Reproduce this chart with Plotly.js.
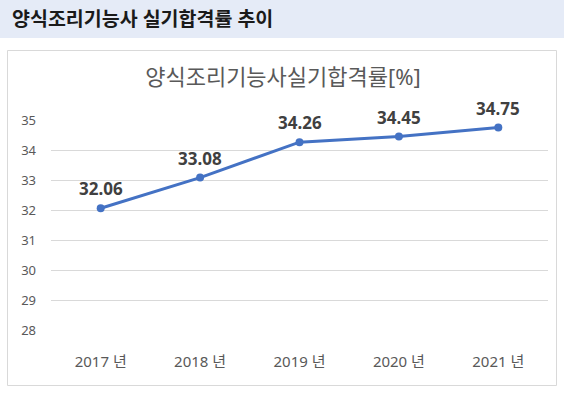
<!DOCTYPE html>
<html>
<head>
<meta charset="utf-8">
<script src="https://cdn.plot.ly/plotly-3.0.1.min.js"></script>
<style>html,body{margin:0;padding:0;background:#fff;}#chart{width:564px;height:396px;}</style>
</head>
<body>
<div id="chart"></div>
<script>
const years = ["2017 년", "2018 년", "2019 년", "2020 년", "2021 년"];
const rates = [32.06, 33.08, 34.26, 34.45, 34.75];
const rateLabels = ["32.06", "33.08", "34.26", "34.45", "34.75"];
const headerText = "양식조리기능사 실기합격률 추이";
const chartTitle = "양식조리기능사실기합격률[%]";

const W = 564, H = 396;
const L = 51, R = 548, T = 120, B = 330;
const px = x => (x - L) / (R - L);
const py = y => (B - y) / (B - T);
const FONT = "Noto Sans, Noto Sans CJK KR, sans-serif";

const trace = {
  x: years, y: rates, type: "scatter", mode: "lines+markers",
  line: {color: "#4472C4", width: 3},
  marker: {color: "#4472C4", size: 8},
  hoverinfo: "skip", cliponaxis: false
};

const labelAnns = years.map((c, i) => ({
  x: c, y: rates[i], xref: "x", yref: "y", text: rateLabels[i],
  showarrow: false, yanchor: "bottom", yshift: 6,
  font: {family: FONT, size: 17, color: "#404040", weight: "bold"}
}));

const layout = {
  width: W, height: H,
  margin: {l: L, r: W - R, t: T, b: H - B, pad: 0},
  paper_bgcolor: "#ffffff", plot_bgcolor: "rgba(0,0,0,0)",
  showlegend: false,
  title: {
    text: chartTitle, x: 283 / W, xanchor: "center", xref: "container",
    y: 1 - 77 / H, yanchor: "middle", yref: "container",
    font: {family: FONT, size: 22, color: "#595959"}
  },
  xaxis: {
    type: "category", range: [-0.5, 4.5], showgrid: false, showline: false,
    zeroline: false, ticks: "", ticklabelstandoff: 21,
    tickfont: {family: FONT, size: 15, color: "#595959"}, fixedrange: true
  },
  yaxis: {
    range: [28, 35], dtick: 1, tick0: 28, showgrid: true, gridcolor: "#D9D9D9",
    gridwidth: 1, showline: false, zeroline: false, ticks: "", ticklabelstandoff: 14,
    tickfont: {family: FONT, size: 13, color: "#595959"}, fixedrange: true
  },
  shapes: [
    {type: "rect", xref: "paper", yref: "paper", layer: "below",
     x0: px(0), x1: px(W), y0: py(0), y1: py(38),
     fillcolor: "#E5EBF7", line: {width: 0}},
    {type: "rect", xref: "paper", yref: "paper", layer: "below",
     x0: px(7.5), x1: px(556.5), y0: py(50.5), y1: py(385.5),
     fillcolor: "rgba(0,0,0,0)", line: {color: "#D9D9D9", width: 1}}
  ],
  annotations: [
    {xref: "paper", yref: "paper", x: px(10), y: py(19), xanchor: "left", yanchor: "middle",
     text: headerText, showarrow: false,
     font: {family: FONT, size: 19.5, color: "#1a1a1a", weight: "bold"}}
  ].concat(labelAnns)
};

Plotly.newPlot("chart", [trace], layout, {staticPlot: true, displayModeBar: false});
</script>
</body>
</html>
